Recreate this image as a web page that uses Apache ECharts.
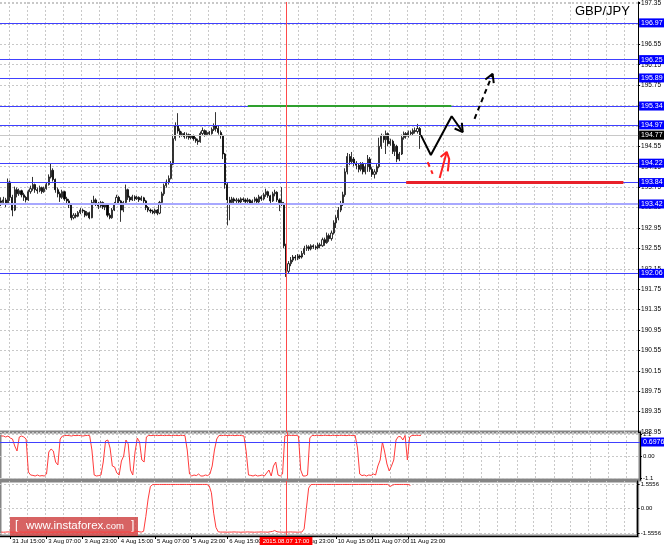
<!DOCTYPE html>
<html><head><meta charset="utf-8">
<script src="https://cdn.jsdelivr.net/npm/echarts@6/dist/echarts.min.js"></script>
<style>html,body{margin:0;padding:0;background:#fff}#c{width:664px;height:546px}</style>
</head><body><div id="c"></div>
<script>
// ---- data ----
const symbolName = 'GBP/JPY';
const cursorLabel = '2015.08.07 17:00';
const xTickLabels = ['31 Jul 15:00','3 Aug 07:00','3 Aug 23:00','4 Aug 15:00','5 Aug 07:00','5 Aug 23:00','6 Aug 15:00','7 Aug 07:00','7 Aug 23:00','10 Aug 15:00','11 Aug 07:00','11 Aug 23:00'];
const priceTicksMin = 188.95, priceTickStep = 0.4, priceMax = 197.38;
const levels = [196.97, 196.25, 195.89, 195.34, 194.97, 194.22, 193.84, 193.42, 192.06];
const softLevel = 193.42;
const lastPrice = 194.77;
const oscLevel = 0.6976;
const osc1Ticks = [1.1, 0, -1.1];
const osc2Ticks = [1.5556, 0, -1.5556];
// [open, close, low, high], hourly bars from 31 Jul 11:00
const candles = [
[193.48,193.45,193.38,193.55],[193.45,193.50,193.40,193.56],[193.50,193.42,193.36,193.54],[193.42,193.85,193.40,193.92],
[193.85,193.55,193.48,193.88],[193.55,193.30,193.18,193.60],[193.30,193.70,193.28,193.76],[193.70,193.62,193.55,193.74],
[193.62,193.68,193.58,193.72],[193.68,193.60,193.55,193.70],[193.60,193.55,193.48,193.64],[193.55,193.50,193.45,193.58],
[193.50,193.66,193.48,193.70],[193.66,193.72,193.62,193.78],[193.72,193.80,193.68,193.95],[193.80,193.70,193.64,193.82],
[193.70,193.68,193.62,193.74],[193.68,193.74,193.65,193.78],[193.74,193.66,193.62,193.76],[193.66,193.72,193.64,193.76],
[193.72,193.80,193.70,193.84],[193.80,193.95,193.78,194.00],[193.95,194.08,193.92,194.22],[194.08,193.90,193.86,194.12],
[193.90,193.70,193.64,193.92],[193.70,193.62,193.55,193.74],[193.62,193.55,193.46,193.66],[193.55,193.66,193.52,193.70],
[193.66,193.52,193.48,193.68],[193.52,193.48,193.42,193.56],[193.48,193.40,193.34,193.52],[193.40,193.15,193.10,193.42],
[193.15,193.20,193.12,193.24],[193.20,193.18,193.14,193.24],[193.18,193.25,193.16,193.28],[193.25,193.30,193.22,193.34],
[193.30,193.28,193.24,193.33],[193.28,193.20,193.16,193.30],[193.20,193.25,193.18,193.28],[193.25,193.15,193.12,193.27],
[193.15,193.45,193.14,193.50],[193.45,193.50,193.40,193.58],[193.50,193.42,193.38,193.53],[193.42,193.38,193.32,193.46],
[193.38,193.45,193.35,193.48],[193.45,193.36,193.32,193.47],[193.36,193.40,193.30,193.44],[193.40,193.20,193.16,193.42],
[193.20,193.15,193.12,193.24],[193.15,193.30,193.13,193.34],[193.30,193.42,193.28,193.46],[193.42,193.55,193.40,193.60],
[193.55,193.48,193.42,193.58],[193.48,193.30,193.07,193.50],[193.30,193.45,193.26,193.48],[193.45,193.70,193.43,193.80],
[193.70,193.55,193.50,193.72],[193.55,193.50,193.46,193.58],[193.50,193.56,193.48,193.60],[193.56,193.52,193.48,193.59],
[193.52,193.55,193.50,193.58],[193.55,193.50,193.46,193.57],[193.50,193.54,193.48,193.58],[193.54,193.48,193.44,193.56],
[193.48,193.35,193.30,193.50],[193.35,193.30,193.26,193.38],[193.30,193.28,193.24,193.33],[193.28,193.25,193.22,193.31],
[193.25,193.30,193.22,193.33],[193.30,193.24,193.20,193.32],[193.24,193.45,193.22,193.48],[193.45,193.62,193.42,193.66],
[193.62,193.78,193.58,193.82],[193.78,193.85,193.74,193.90],[193.85,193.92,193.80,193.98],[193.92,194.20,193.90,194.26],
[194.20,194.70,194.18,194.78],[194.70,194.95,194.66,195.02],[194.95,194.85,194.80,195.20],[194.85,194.78,194.72,194.90],
[194.78,194.80,194.74,194.84],[194.80,194.74,194.70,194.83],[194.74,194.78,194.70,194.82],[194.78,194.72,194.68,194.80],
[194.72,194.76,194.69,194.79],[194.76,194.70,194.66,194.78],[194.70,194.66,194.62,194.73],[194.66,194.64,194.58,194.70],
[194.64,194.80,194.62,194.84],[194.80,194.86,194.76,194.92],[194.86,194.78,194.74,194.88],[194.78,194.82,194.75,194.86],
[194.82,194.80,194.76,194.85],[194.80,194.88,194.78,194.92],[194.88,194.95,194.85,195.00],[194.95,194.90,194.84,195.22],
[194.90,194.82,194.78,194.96],[194.82,194.76,194.70,194.86],[194.76,194.40,194.30,194.78],[194.40,193.80,193.72,194.42],
[193.80,193.50,193.00,193.84],[193.50,193.45,193.10,193.56],[193.45,193.52,193.40,193.56],[193.52,193.48,193.42,193.55],
[193.48,193.50,193.44,193.54],[193.50,193.46,193.40,193.53],[193.46,193.52,193.43,193.55],[193.52,193.50,193.46,193.55],
[193.50,193.47,193.42,193.53],[193.47,193.50,193.44,193.54],[193.50,193.44,193.40,193.52],[193.44,193.48,193.41,193.51],
[193.48,193.52,193.45,193.56],[193.52,193.46,193.42,193.55],[193.46,193.56,193.44,193.60],[193.56,193.52,193.48,193.59],
[193.52,193.60,193.49,193.64],[193.60,193.66,193.56,193.72],[193.66,193.58,193.54,193.68],[193.58,193.48,193.42,193.60],
[193.48,193.62,193.46,193.66],[193.62,193.65,193.57,193.70],[193.65,193.50,193.46,193.67],[193.50,193.45,193.28,193.53],
[193.45,193.42,193.38,193.75],[193.42,192.60,192.55,193.46],[192.60,192.10,191.99,192.64],[192.10,192.25,192.05,192.30],
[192.25,192.32,192.20,192.38],[192.32,192.38,192.28,192.42],[192.38,192.36,192.31,192.42],[192.36,192.40,192.32,192.44],
[192.40,192.38,192.34,192.43],[192.38,192.45,192.35,192.50],[192.45,192.55,192.42,192.60],[192.55,192.58,192.50,192.62],
[192.58,192.54,192.50,192.61],[192.54,192.60,192.51,192.63],[192.60,192.58,192.54,192.63],[192.58,192.56,192.52,192.61],
[192.56,192.62,192.53,192.66],[192.62,192.60,192.55,192.66],[192.60,192.72,192.58,192.76],[192.72,192.66,192.60,192.76],
[192.66,192.80,192.64,192.86],[192.80,192.74,192.68,192.84],[192.74,192.85,192.70,192.90],[192.85,193.05,192.82,193.10],
[193.05,193.15,192.95,193.20],[193.15,193.30,193.10,193.36],[193.30,193.42,193.26,193.48],[193.42,193.60,193.38,193.66],
[193.60,194.05,193.56,194.12],[194.05,194.35,194.00,194.42],[194.35,194.25,194.18,194.40],[194.25,194.30,194.20,194.44],
[194.30,194.22,194.16,194.34],[194.22,194.18,194.10,194.26],[194.18,194.10,194.04,194.22],[194.10,194.20,194.06,194.24],
[194.20,194.05,194.00,194.24],[194.05,194.15,194.00,194.20],[194.15,194.30,194.05,194.38],[194.30,194.10,194.05,194.34],
[194.10,194.00,193.95,194.14],[194.00,194.05,193.92,194.10],[194.05,194.15,194.00,194.20],[194.15,194.55,194.12,194.72],
[194.55,194.75,194.50,194.80],[194.75,194.68,194.62,194.78],[194.68,194.80,194.40,194.86],[194.80,194.60,194.55,194.82],
[194.60,194.65,194.56,194.70],[194.65,194.45,194.40,194.68],[194.45,194.55,194.36,194.60],[194.55,194.30,194.24,194.58],
[194.30,194.40,194.26,194.44],[194.40,194.72,194.38,194.78],[194.72,194.80,194.68,194.84],[194.80,194.75,194.70,194.83],
[194.75,194.82,194.72,194.86],[194.82,194.80,194.76,194.86],[194.80,194.86,194.77,194.90],[194.86,194.84,194.80,194.92],
[194.84,194.90,194.80,194.99],[194.90,194.77,194.50,194.93]
];
const osc1 = [
1.0,1.0,0.95,1.0,
0.9,0.85,0.5,0.25,0.95,1.0,0.95,0.85,
-0.8,-0.95,-0.97,-1.0,-0.95,-1.0,-0.98,-1.0,-0.9,
0.2,0.35,0.25,-0.3,-0.45,0.85,
1.0,1.02,1.03,1.02,1.0,1.03,1.02,1.03,1.02,1.0,1.02,1.03,1.02,
0.3,-0.95,-1.0,-0.98,-0.95,-0.3,0.75,0.8,0.4,
-0.5,-0.55,-0.85,-0.95,-0.25,0.0,0.8,0.6,
-0.7,-0.95,0.2,0.9,0.7,-0.2,-0.3,0.95,
1.03,1.02,1.03,1.03,1.02,1.03,1.03,1.02,1.03,1.03,1.02,1.03,1.03,1.02,1.03,1.03,1.02,
0.3,-0.9,-1.0,-0.95,-0.98,-0.9,-1.0,-1.0,-0.95,-0.98,-0.9,-0.5,0.3,0.85,
1.03,1.02,1.03,1.03,1.02,1.03,1.03,1.02,1.03,1.03,1.02,
1.0,0.2,-0.95,-0.97,-1.0,-0.95,-1.0,-0.98,-0.95,-1.0,-0.85,-0.7,-1.0,-0.5,-0.3,-0.95,-1.0,-0.9,
1.0,1.03,1.03,1.03,1.03,1.03,1.0,-0.7,-1.0,-1.0,-0.95,0.9,
1.03,1.02,1.03,1.03,1.02,1.03,1.03,1.03,1.02,1.03,1.03,1.02,1.03,1.03,1.03,1.02,1.03,1.03,1.02,1.03,
0.4,-0.9,-0.98,-0.95,-1.0,-0.95,-0.97,-0.9,-0.95,-0.5,-0.2,0.7,0.2,-0.4,-0.75,-0.5,-0.2,0.8,0.97,0.97,0.8,1.03,-0.2,0.95,1.03,1.03,1.03,1.03,1.03
];
const osc2 = [
-1.50,-1.51,-1.50,-1.49,-1.50,-1.51,-1.50,-1.50,-1.49,-1.50,-1.51,-1.50,-1.50,-1.50,-1.49,-1.50,-1.51,-1.50,-1.50,-1.50,
-1.49,-1.50,-1.51,-1.50,-1.50,-1.50,-1.49,-1.50,-1.51,-1.50,-1.50,-1.50,-1.49,-1.50,-1.51,-1.50,-1.50,-1.50,-1.49,-1.50,
-1.51,-1.50,-1.50,-1.50,-1.49,-1.50,-1.51,-1.50,-1.50,-1.50,-1.49,-1.50,-1.51,-1.50,-1.50,-1.50,-1.49,-1.50,-1.51,-1.50,
-1.44,-1.48,-1.50,
-1.45,-0.5,0.6,1.4,
1.52,1.53,1.53,1.53,1.53,1.53,1.53,1.53,1.53,1.53,1.53,1.53,1.53,1.53,1.53,1.53,1.53,1.53,1.53,1.53,1.53,1.53,1.53,1.53,1.53,
1.45,1.0,-0.3,-1.2,-1.48,
-1.50,-1.50,-1.50,-1.51,-1.50,-1.50,-1.49,-1.50,-1.50,-1.51,-1.50,-1.50,-1.49,-1.50,-1.50,-1.51,-1.50,-1.50,-1.49,-1.50,-1.50,-1.51,-1.48,-1.46,
-1.4,-1.48,
-1.50,-1.50,-1.51,-1.50,-1.50,-1.49,-1.50,-1.50,-1.51,-1.50,-1.50,
-1.3,0.0,1.3,
1.52,1.53,1.53,1.53,1.53,1.53,1.53,1.53,1.53,1.53,1.53,1.53,1.53,1.53,1.53,1.53,1.53,1.53,1.53,1.53,1.53,1.53,1.53,1.53,1.53,1.53,1.53,1.53,1.53,1.53,1.53,1.53,1.53,1.53,1.53,
1.4,1.48,
1.53,1.53,1.53,1.53,1.53,1.53,1.53,
1.47
];
// forecast sketch strokes: [slot index, price]
const fcSolid = [[185.5,194.77],[189.9,194.38],[199.1,195.14],[204.0,194.83]];
const fcSolidHead = [[203.6,195.01],[204.0,194.83],[200.4,194.90]];
const fcDashed = [[209.2,195.09],[217.2,195.97]];
const fcDashedHead = [[214.0,195.86],[217.2,195.97],[217.7,195.79]];
const fcRedDash = [[188.5,194.24],[190.7,194.01]];
const fcRedArrow = [[193.8,193.93],[196.9,194.44]];
const fcRedHead = [[194.2,194.34],[196.9,194.44],[198.1,194.29]];
const fcRedArrow2 = [[197.4,194.06],[198.0,194.30]];
const greenSeg = {from: 109, to: 199, price: 195.34};
const redSeg = {from: 179, to: 275, price: 193.84};
const cursorSlot = 126;
const gridEvery = 8, firstLabelSlot = 4;
const totalSlots = 282;

// ---- categories (hourly, weekends skipped) ----
const MONTHS=['Jan','Feb','Mar','Apr','May','Jun','Jul','Aug','Sep','Oct','Nov','Dec'];
const categories = [];
let t = Date.UTC(2015,6,31,11);
while (categories.length < candles.length) {
  const d = new Date(t); const wd = d.getUTCDay();
  if (wd !== 0 && wd !== 6) categories.push(d.getUTCDate()+' '+MONTHS[d.getUTCMonth()]+' '+String(d.getUTCHours()).padStart(2,'0')+':00');
  t += 3600000;
}
for (let j = categories.length; j < totalSlots; j++) categories.push('+' + j);

// ---- chart ----
const FONT = 'Liberation Sans, Arial, sans-serif';
const gridLine = {show:true, lineStyle:{color:'#c8c8c8', type:[2,2], width:1}};
const vSplit = {show:true, interval:(i)=> i>=firstLabelSlot && (i-firstLabelSlot)%gridEvery===0, lineStyle:{color:'#c8c8c8', type:[2,2], width:1}};
const blueLbl = (c)=>({show:true, position:'end', distance:1, backgroundColor:c||'#0000ff', color:'#fff', fontSize:7, fontFamily:FONT, padding:[1,2,0,2], lineHeight:8});

const levelLines = levels.map(v => ({
  yAxis: v,
  lineStyle: v===softLevel ? {color:'#a8a8ff', width:2, type:'solid'} : {color:'#4040ff', width:1, type:'solid'},
  label: Object.assign(blueLbl(), {formatter: v.toFixed(2)})
}));

const chart = echarts.init(document.getElementById('c'), null, {renderer:'canvas'});
const xCat = (gi, extra) => Object.assign({
  type:'category', gridIndex:gi, data:categories, boundaryGap:true,
  axisLine:{show:false}, axisTick:{show:false}, axisLabel:{show:false}, splitLine:vSplit
}, extra||{});

const lineSer = (data, color, dashed) => ({
  type:'line', xAxisIndex:3, yAxisIndex:0, data, showSymbol:false, symbol:'none', silent:true,
  lineStyle:{color, width:2, type: dashed ? [5,4] : 'solid'}, z:6
});
const yLine = {show:true, onZero:false, lineStyle:{color:'#000'}};

chart.setOption({
  animation:false,
  backgroundColor:'#ffffff',
  grid:[
    {left:0, top:0, width:640, height:432, show:false},
    {left:0, top:432, width:640, height:48, show:true, borderColor:'#858585', borderWidth:3},
    {left:0, top:481, width:640, height:55, show:true, borderColor:'#858585', borderWidth:3}
  ],
  xAxis:[
    xCat(0), xCat(1),
    xCat(2, {
      axisLine:{show:true, onZero:false, lineStyle:{color:'#000', width:1}},
      axisTick:{show:true, alignWithLabel:true, length:3, interval:(i,v)=>xTickLabels.includes(v), lineStyle:{color:'#000'}},
      axisLabel:{show:true, hideOverlap:false, interval:(i,v)=>xTickLabels.includes(v), align:'left', fontSize:6, fontFamily:FONT, color:'#000', margin:2, padding:[0,0,0,2]}
    }),
    {type:'value', gridIndex:0, min:-0.5, max:totalSlots-0.5, show:false}
  ],
  yAxis:[
    {type:'value', gridIndex:0, position:'right', min:priceTicksMin, max:priceMax, interval:priceTickStep, scale:true,
     axisLine:yLine, axisTick:{show:true, length:2, lineStyle:{color:'#000'}},
     axisLabel:{fontSize:6.5, fontFamily:FONT, color:'#000', margin:3,
       formatter:(v)=>{const n=(v-priceTicksMin)/priceTickStep; return Math.abs(n-Math.round(n))<1e-6 ? v.toFixed(2) : '';}},
     splitLine:gridLine},
    {type:'value', gridIndex:1, position:'right', min:-1.2, max:1.2, interval:1.2,
     axisLine:yLine, axisTick:{show:true, length:2, customValues:osc1Ticks},
     axisLabel:{fontSize:6, fontFamily:FONT, color:'#000', margin:3, customValues:osc1Ticks,
       formatter:(v)=> v===0 ? '0.00' : String(v)},
     splitLine:gridLine},
    {type:'value', gridIndex:2, position:'right', min:-1.75, max:1.75, interval:1.75,
     axisLine:yLine, axisTick:{show:true, length:2, customValues:osc2Ticks},
     axisLabel:{fontSize:6, fontFamily:FONT, color:'#000', margin:3, customValues:osc2Ticks,
       formatter:(v)=> v===0 ? '0.00' : String(v)},
     splitLine:gridLine}
  ],
  series:[
    {type:'candlestick', xAxisIndex:0, yAxisIndex:0, data:candles, barWidth:1.6, z:3,
     itemStyle:{color:'#ffffff', color0:'#000000', borderColor:'#000000', borderColor0:'#000000', borderWidth:0.8},
     markLine:{silent:true, symbol:'none', animation:false, precision:4,
       data:[
         {yAxis:lastPrice, lineStyle:{color:'#c8c8c8', width:1, type:'solid'}, label:Object.assign(blueLbl('#000000'), {formatter:lastPrice.toFixed(2)})},
         ...levelLines,
         [{coord:[categories[greenSeg.from], greenSeg.price], lineStyle:{color:'#2ea02e', width:2, type:'solid'}, label:{show:false}},
          {coord:[categories[greenSeg.to], greenSeg.price]}],
         [{coord:[categories[redSeg.from], redSeg.price], lineStyle:{color:'#e8202a', width:3, type:'solid'}, label:{show:false}},
          {coord:[categories[redSeg.to], redSeg.price]}],
         {xAxis:categories[cursorSlot], lineStyle:{color:'#ff4a4a', width:1, type:'solid'}, label:{show:false}}
       ]}
    },
    {type:'line', xAxisIndex:1, yAxisIndex:1, data:osc1, showSymbol:false, symbol:'none', silent:true,
     lineStyle:{color:'#ff3b3b', width:1},
     markLine:{silent:true, symbol:'none', animation:false,
       data:[
         {yAxis:oscLevel, lineStyle:{color:'#4040ff', width:1, type:'solid'}, label:Object.assign(blueLbl(), {formatter:String(oscLevel)})},
         {xAxis:categories[cursorSlot], lineStyle:{color:'#ff4a4a', width:1, type:'solid'}, label:{show:false}}
       ]}
    },
    {type:'line', xAxisIndex:2, yAxisIndex:2, data:osc2, showSymbol:false, symbol:'none', silent:true,
     lineStyle:{color:'#ff3b3b', width:1},
     markLine:{silent:true, symbol:'none', animation:false,
       data:[{xAxis:categories[cursorSlot], lineStyle:{color:'#ff4a4a', width:1, type:'solid'}, label:{show:false}}]}
    },
    lineSer(fcSolid, '#000000'), lineSer(fcSolidHead, '#000000'),
    lineSer(fcDashed, '#000000', true), lineSer(fcDashedHead, '#000000'),
    lineSer(fcRedDash, '#ff2020', true), lineSer(fcRedArrow, '#ff2020'),
    lineSer(fcRedHead, '#ff2020'), lineSer(fcRedArrow2, '#ff2020')
  ]
});

const cx = chart.convertToPixel({xAxisIndex:2}, categories[cursorSlot]);
chart.setOption({
  graphic:[
    {type:'text', id:'sym', left:575, top:5, z:20,
     style:{text:symbolName, font:'13px "Liberation Sans", Arial, sans-serif', fill:'#000'}},
    {type:'group', id:'wm', left:10, top:517, z:20, children:[
      {type:'rect', shape:{x:0, y:0, width:128, height:19}, style:{fill:'rgba(208,72,72,0.85)'}},
      {type:'text', x:5, y:3, style:{text:'[', font:'12px "Liberation Sans", Arial, sans-serif', fill:'#fff'}},
      {type:'text', x:16, y:3, style:{
        rich:{a:{font:'11.5px "Liberation Sans", Arial, sans-serif', fill:'#fff'}, b:{font:'9.5px "Liberation Sans", Arial, sans-serif', fill:'#fff'}},
        text:'{a|www.instaforex}{b|.com}'}},
      {type:'text', x:121, y:3, style:{text:']', font:'12px "Liberation Sans", Arial, sans-serif', fill:'#fff'}}
    ]},
    {type:'text', id:'cur', x:cx, y:537, z:30,
     style:{text:cursorLabel, font:'6px "Liberation Sans", Arial, sans-serif', fill:'#fff', align:'center',
            backgroundColor:'#ff0000', padding:[1,3,1,3]}}
  ]
});
</script>
</body></html>
